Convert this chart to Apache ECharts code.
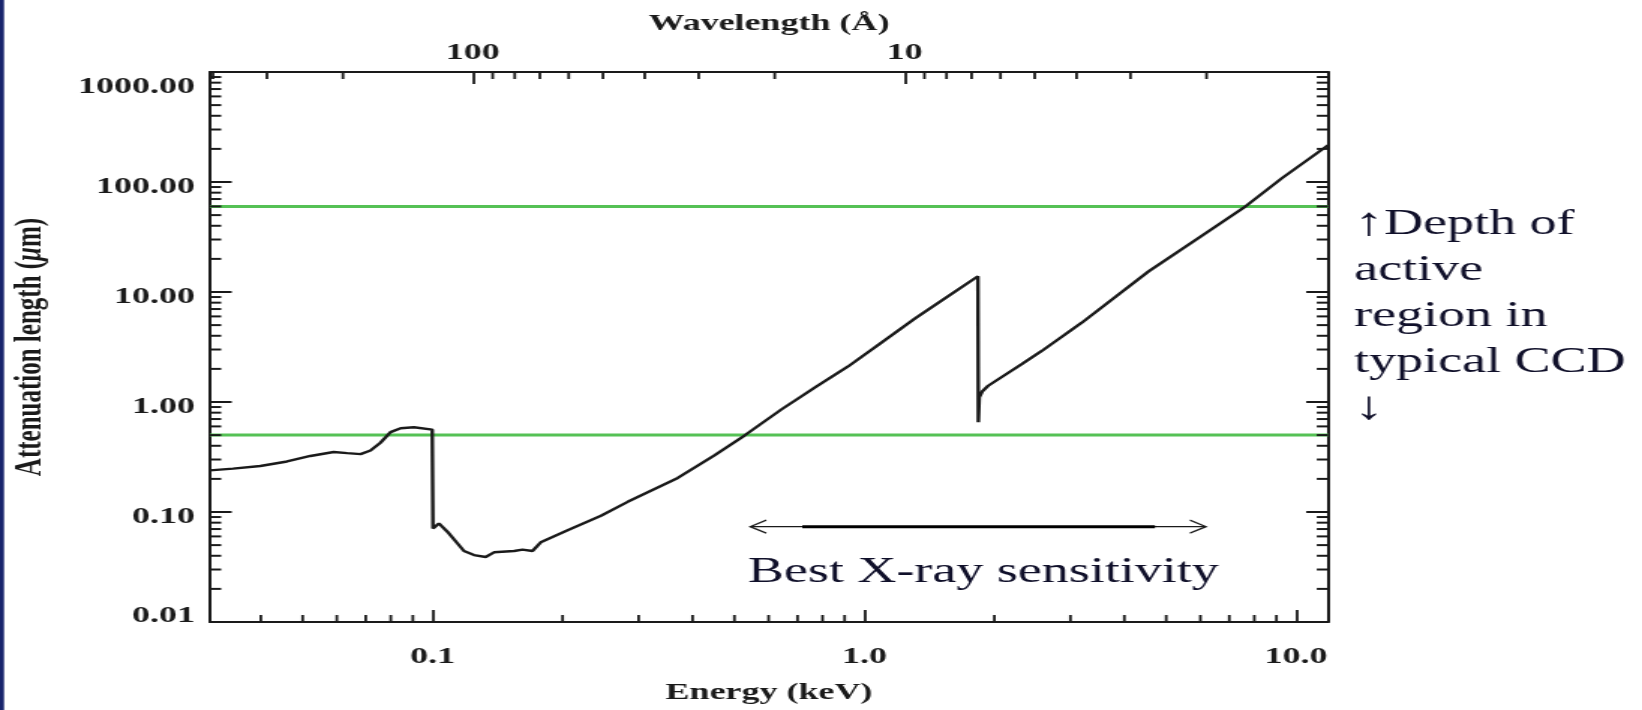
<!DOCTYPE html>
<html>
<head>
<meta charset="utf-8">
<title>Attenuation length in Si</title>
<script src="https://cdn.jsdelivr.net/npm/echarts@6.0.0/dist/echarts.min.js"></script>
<style>
  html, body { margin: 0; padding: 0; background: #fff; overflow: hidden; }
  /* the original figure is stretched horizontally, so draw narrow and stretch */
  #chart { width: 1095px; height: 710px; transform: scaleX(1.49954); transform-origin: 0 0; }
</style>
</head>
<body>
<div id="chart"></div>
<script>
const HC = 12.398; // keV * Angstrom
const E_MIN = 0.0305, E_MAX = 11.85;
const Y_MIN = 0.01, Y_MAX = 1000;

// attenuation length curve
const energyKeV = [0.0305, 0.0345, 0.0399, 0.046, 0.0521, 0.059, 0.0634, 0.0681, 0.0718, 0.0757,
  0.0799, 0.0843, 0.0905, 0.0998, 0.1002, 0.1034, 0.1082, 0.1182, 0.1247, 0.1327,
  0.1387, 0.1544, 0.1615, 0.1703, 0.178, 0.2054, 0.2454, 0.283, 0.3696, 0.4494,
  0.5276, 0.642, 0.767, 0.9166, 1.095, 1.308, 1.564, 1.832, 1.836, 1.845,
  1.874, 1.935, 2.314, 2.575, 3.187, 4.552, 5.946, 7.56, 9.28, 11.85];
const attenUm = [0.239, 0.248, 0.262, 0.288, 0.323, 0.351, 0.343, 0.336, 0.362, 0.426,
  0.532, 0.578, 0.590, 0.561, 0.0709, 0.0787, 0.0662, 0.0442, 0.0406, 0.039,
  0.043, 0.0442, 0.0455, 0.0442, 0.053, 0.0684, 0.0924, 0.1237, 0.204, 0.3266,
  0.4955, 0.855, 1.35, 2.104, 3.47, 5.72, 9.16, 13.9, 0.655, 1.1,
  1.245, 1.405, 2.21, 2.91, 5.26, 15.4, 31.1, 58.4, 108.7, 216];

// depth of active region (green lines)
const depthUm = [60, 0.5];

// best sensitivity arrow
const bestOuterKeV = [0.544, 6.18];
const bestInnerKeV = [0.718, 4.71];
const bestLevelUm = 0.0735;

// minor ticks
const keVMinor = [0.04, 0.05, 0.06, 0.07, 0.08, 0.09, 0.2, 0.3, 0.4, 0.5, 0.6, 0.7, 0.8, 0.9,
  2, 3, 4, 5, 6, 7, 8, 9];
const waveMinor = [2, 3, 4, 5, 6, 7, 8, 9, 20, 30, 40, 50, 60, 70, 80, 90, 200, 300, 400];
const umMinor = [0.02, 0.03, 0.04, 0.05, 0.06, 0.07, 0.08, 0.09, 0.2, 0.3, 0.4, 0.5, 0.6, 0.7, 0.8, 0.9,
  2, 3, 4, 5, 6, 7, 8, 9, 20, 30, 40, 50, 60, 70, 80, 90, 200, 300, 400, 500, 600, 700, 800, 900];

const INK = '#1a1a1a';
const SERIF = '"Liberation Serif", "Times New Roman", serif';
const labelFont = { fontFamily: SERIF, fontWeight: 'bold', fontSize: 24, color: INK };

function tickSeries(name, xIdx, pts, dx, dy) {
  return {
    type: 'custom', name: name, xAxisIndex: xIdx, yAxisIndex: 0, silent: true, z: 4,
    data: pts,
    renderItem: function (params, api) {
      const p = api.coord([api.value(0), api.value(1)]);
      return {
        type: 'line',
        shape: { x1: p[0], y1: p[1], x2: p[0] + dx, y2: p[1] + dy },
        style: { stroke: INK, lineWidth: dy ? 1.8 : 2 }
      };
    }
  };
}

const chart = echarts.init(document.getElementById('chart'));
chart.setOption({
  animation: false,
  backgroundColor: '#fff',
  grid: { left: 140, right: 209.4, top: 72, bottom: 86 },
  xAxis: [{
    type: 'log', position: 'bottom', min: E_MIN, max: E_MAX,
    name: 'Energy (keV)', nameLocation: 'middle', nameGap: 59,
    nameTextStyle: { fontFamily: SERIF, fontWeight: 'bold', fontSize: 24, color: INK },
    axisLine: { lineStyle: { color: INK, width: 2 } },
    axisTick: { inside: true, length: 12, lineStyle: { color: INK, width: 1.8 } },
    axisLabel: Object.assign({ margin: 23, showMinLabel: false, showMaxLabel: false,
      formatter: v => v.toFixed(1) }, labelFont),
    splitLine: { show: false }
  }, {
    type: 'log', position: 'top', inverse: true, min: HC / E_MAX, max: HC / E_MIN,
    name: 'Wavelength (Å)', nameLocation: 'middle', nameGap: 34,
    nameTextStyle: { fontFamily: SERIF, fontWeight: 'bold', fontSize: 24, color: INK },
    axisLine: { lineStyle: { color: INK, width: 2 } },
    axisTick: { inside: true, length: 12, lineStyle: { color: INK, width: 1.8 } },
    axisLabel: Object.assign({ margin: 7, showMinLabel: false, showMaxLabel: false,
      formatter: v => String(Math.round(v)) }, labelFont),
    splitLine: { show: false }
  }],
  yAxis: [{
    type: 'log', position: 'left', min: Y_MIN, max: Y_MAX,
    name: '{n|Attenuation length (}{i|μ}{n|m)}', nameLocation: 'middle', nameGap: 107,
    nameTextStyle: {
      rich: {
        n: { fontFamily: SERIF, fontWeight: 'bold', fontSize: 25, color: INK },
        i: { fontFamily: SERIF, fontStyle: 'italic', fontWeight: 'bold', fontSize: 25, color: INK }
      }
    },
    axisLine: { lineStyle: { color: INK, width: 2 } },
    axisTick: { inside: true, length: 14.5, lineStyle: { color: INK, width: 2 } },
    axisLabel: {
      margin: 10, showMinLabel: true, showMaxLabel: true,
      formatter: function (v) {
        const k = v > 500 ? 'hi' : (v < 0.02 ? 'lo' : 'md');
        return '{' + k + '|' + v.toFixed(2) + '}';
      },
      rich: {
        hi: Object.assign({ padding: [30, 0, 0, 0] }, labelFont),
        md: Object.assign({ padding: [10, 0, 0, 0] }, labelFont),
        lo: Object.assign({ padding: [0, 0, 13, 0] }, labelFont)
      }
    },
    splitLine: { show: false }
  }, {
    type: 'log', position: 'right', min: Y_MIN, max: Y_MAX,
    axisLine: { lineStyle: { color: INK, width: 2 } },
    axisTick: { inside: true, length: 14.5, lineStyle: { color: INK, width: 2 } },
    axisLabel: { show: false },
    splitLine: { show: false }
  }],
  graphic: [
    { type: 'rect', x: 0, y: 0, shape: { width: 2.7, height: 710 }, style: { fill: '#18246c' } },
    { type: 'text', x: 498.7, y: 572.5,
      style: { text: 'Best X-ray sensitivity', fontFamily: SERIF, fontSize: 36, fill: '#10102a',
        verticalAlign: 'middle' } },
    { type: 'text', x: 903, y: 201.5,
      style: { text: '{a|↑}Depth of\nactive\nregion in\ntypical CCD\n{a|↓}', fontFamily: SERIF, fontSize: 36,
        lineHeight: 46, fill: '#10102a', verticalAlign: 'top',
        rich: { a: { fontFamily: SERIF, fontSize: 40, lineHeight: 46, fill: '#10102a' } } } }
  ],
  series: [
    ...depthUm.map(d => ({
      type: 'line', name: 'depth ' + d, xAxisIndex: 0, yAxisIndex: 0, z: 2, silent: true,
      symbol: 'none', lineStyle: { color: '#55c155', width: 3 },
      data: [[E_MIN, d], [E_MAX, d]]
    })),
    {
      type: 'line', name: 'Si attenuation', xAxisIndex: 0, yAxisIndex: 0, z: 5, silent: true,
      symbol: 'none', lineStyle: { color: INK, width: 2.4 },
      data: energyKeV.map((e, i) => [e, attenUm[i]])
    },
    {
      type: 'line', name: 'best range', xAxisIndex: 0, yAxisIndex: 0, z: 5, silent: true,
      lineStyle: { color: INK, width: 1.2 },
      itemStyle: { color: 'none', borderColor: INK, borderWidth: 1.2 },
      data: [
        { value: [bestOuterKeV[0], bestLevelUm], symbol: 'path://M10,0 L0,6.5 L10,13',
          symbolSize: [10.7, 13], symbolOffset: [5.35, 0] },
        { value: [bestOuterKeV[1], bestLevelUm], symbol: 'path://M0,0 L10,6.5 L0,13',
          symbolSize: [10.7, 13], symbolOffset: [-5.35, 0] }
      ]
    },
    {
      type: 'line', name: 'best core', xAxisIndex: 0, yAxisIndex: 0, z: 6, silent: true,
      symbol: 'none', lineStyle: { color: '#000', width: 3 },
      data: bestInnerKeV.map(e => [e, bestLevelUm])
    },
    tickSeries('minor bottom', 0, keVMinor.map(e => [e, Y_MIN]), 0, -7),
    tickSeries('minor top', 1, waveMinor.map(w => [w, Y_MAX]), 0, 7),
    tickSeries('minor left', 0, umMinor.map(u => [E_MIN, u]), 7.5, 0),
    tickSeries('minor right', 0, umMinor.map(u => [E_MAX, u]), -7.5, 0)
  ]
});
</script>
</body>
</html>
